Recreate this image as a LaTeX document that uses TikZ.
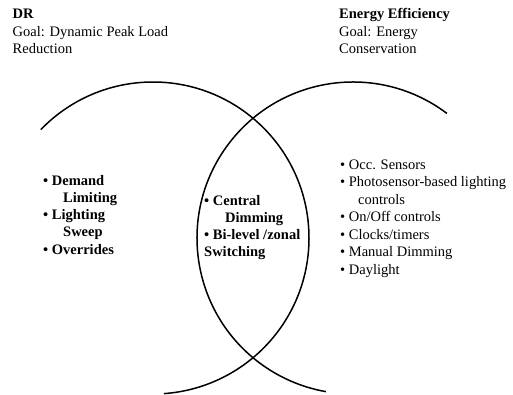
\documentclass[tikz,border=0pt]{standalone}
\usepackage{fontspec}
\setmainfont{Liberation Serif}
\usepackage{tikz}

\tikzset{
  ring/.style={line width=1.5pt},
  txt/.style={anchor=base west, inner sep=0pt, align=left,
    font=\fontsize{14.5}{17.5}\selectfont},
}

\begin{document}
\begin{tikzpicture}[x=1pt, y=1pt]

  \useasboundingbox (0,0) rectangle (513,394);

  % the two overlapping circles (open at the ends)
  \draw[ring] (153,156) ++(136:156) arc[start angle=136, end angle=-86, radius=156];
  \draw[ring] (353,156) ++(53:156) arc[start angle=53, end angle=260, radius=156];

  % headings (placed by the baseline of their last line)
  \node[txt] (dr) at (12.5,340) {\textbf{DR}\\Goal: Dynamic Peak Load\\Reduction};
  \node[txt] (ee) at (339,340) {\textbf{Energy Efficiency}\\Goal: Energy\\Conservation};

  % DR only
  \node[txt, font=\fontsize{14.5}{17.1}\selectfont\bfseries] (drlist) at (43,140)
    {\textbullet{} Demand\\\hspace*{20pt}Limiting\\\textbullet{} Lighting\\\hspace*{20pt}Sweep\\\textbullet{} Overrides};

  % both
  \node[txt, font=\fontsize{14.5}{17}\selectfont\bfseries] (both) at (204,138)
    {\textbullet{} Central\\\hspace*{21pt}Dimming\\\textbullet{} Bi-level /zonal\\Switching};

  % energy efficiency only
  \node[txt] (eelist) at (340,120)
    {\textbullet{} Occ. Sensors\\\textbullet{} Photosensor-based lighting\\\hspace*{18pt}controls\\\textbullet{} On/Off controls\\\textbullet{} Clocks/timers\\\textbullet{} Manual Dimming\\\textbullet{} Daylight};

\end{tikzpicture}
\end{document}
